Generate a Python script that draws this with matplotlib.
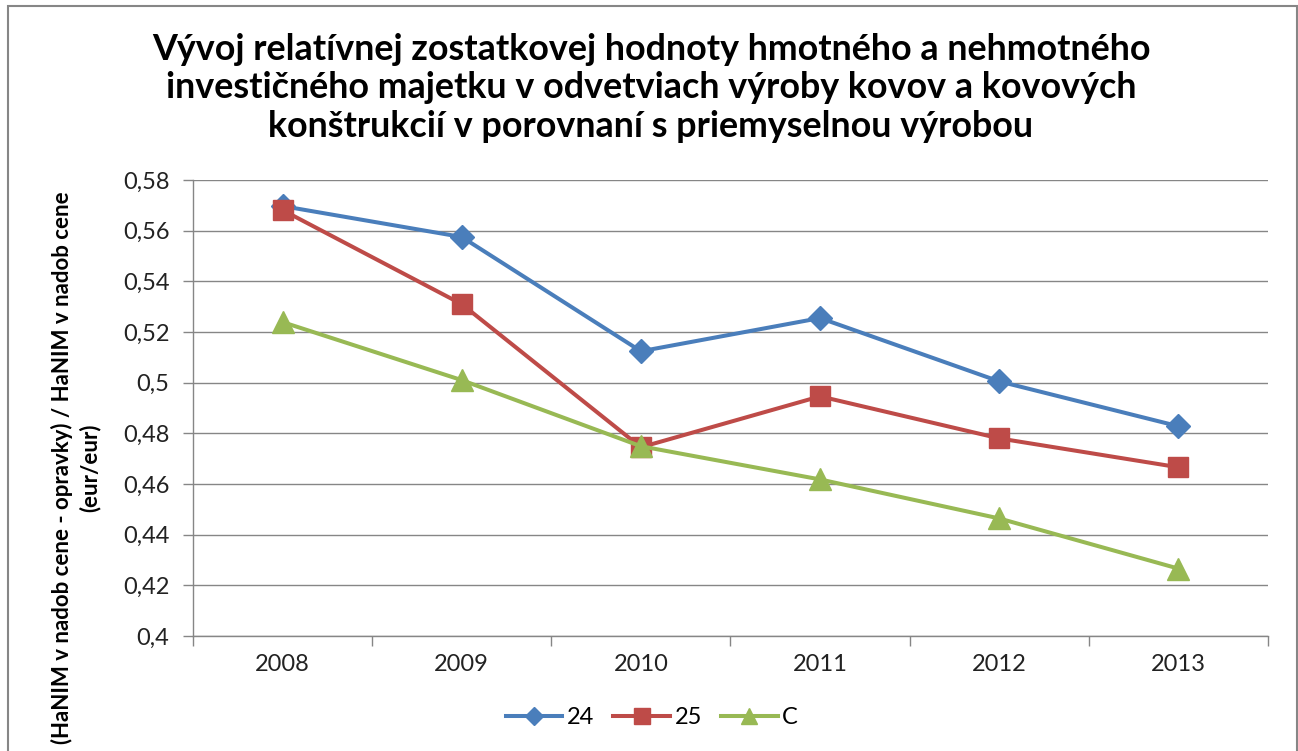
import matplotlib
matplotlib.use("Agg")
import matplotlib.pyplot as plt
from matplotlib.patches import Rectangle
from matplotlib.ticker import FuncFormatter
import numpy as np

# data
years = ["2008", "2009", "2010", "2011", "2012", "2013"]
s24 = [0.5697, 0.5575, 0.5124, 0.5255, 0.5005, 0.4828]
s25 = [0.5681, 0.5310, 0.4745, 0.4946, 0.4780, 0.4666]
sC = [0.5239, 0.5010, 0.4749, 0.4618, 0.4464, 0.4266]

title = ("Vývoj relatívnej zostatkovej hodnoty hmotného a nehmotného\n"
         "investičného majetku v odvetviach výroby kovov a kovových\n"
         "konštrukcií v porovnaní s priemyselnou výrobou")
ylab = "(HaNIM v nadob cene - opravky) / HaNIM v nadob cene\n(eur/eur)"

plt.rcParams['font.family'] = ['Lato', 'DejaVu Sans']

W, H = 1298, 751
fig = plt.figure(figsize=(W / 100, H / 100), dpi=100)

# outer chart frame
fig.patches.append(Rectangle((8 / W, -0.05), (1297 - 8) / W, 1.05 - 6 / H,
                             transform=fig.transFigure, fill=False,
                             edgecolor='#868686', linewidth=1.5))

ax = fig.add_axes([193 / W, (H - 636) / H, (1268 - 193) / W, (636 - 180) / H])

x = np.arange(len(years))
ax.plot(x, s24, color='#4A7EBB', lw=2.9, marker='D', ms=12, label='24', zorder=3)
ax.plot(x, s25, color='#BE4B48', lw=2.9, marker='s', ms=14.5, label='25', zorder=3)
ax.plot(x, sC, color='#98B954', lw=2.9, marker='^', ms=16, label='C', zorder=3)

ax.set_xlim(-0.5, len(years) - 0.5)
ax.set_ylim(0.4, 0.58)
ax.set_yticks(np.arange(0.4, 0.5801, 0.02))
ax.yaxis.set_major_formatter(FuncFormatter(
    lambda v, p: ("%.2f" % v).rstrip('0').rstrip('.').replace('.', ',')))
ax.set_xticks(x)
ax.set_xticklabels(years)
ax.set_xticks(np.arange(-0.5, len(years), 1), minor=True)
ax.tick_params(axis='x', which='major', length=0, pad=13, labelsize=17, colors='#222222')
ax.tick_params(axis='x', which='minor', length=7, color='#868686', width=1)
ax.tick_params(axis='y', length=7, color='#868686', width=1, pad=10,
               labelsize=17, labelcolor='#222222')
ax.grid(axis='y', color='#868686', linewidth=1)
ax.set_axisbelow(True)
for side in ['top', 'right']:
    ax.spines[side].set_visible(False)
for side in ['left', 'bottom']:
    ax.spines[side].set_color('#868686')
    ax.spines[side].set_linewidth(1)

fig.text(651 / W, 1 - 88 / H, title, ha='center', va='center',
         fontsize=25.8, fontweight='bold', linespacing=1.22)
fig.text(76 / W, 1 - 468 / H, ylab, rotation=90, ha='center', va='center',
         fontsize=16, fontweight='bold', multialignment='center', linespacing=1.35)

leg = fig.legend(loc='center', bbox_to_anchor=(652 / W, 1 - 718 / H), ncol=3,
                 frameon=False, fontsize=17, handlelength=2.4, columnspacing=0.8,
                 handletextpad=0.2, markerscale=0.75)

fig.savefig("out.png", dpi=100)
